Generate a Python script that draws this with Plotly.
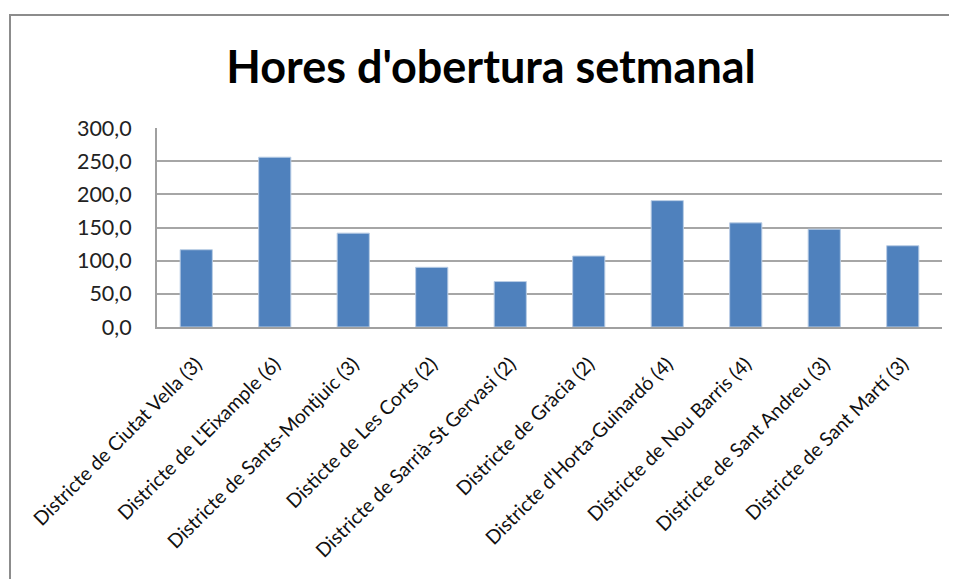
import plotly.graph_objects as go

categories = [
    "Districte de Ciutat Vella (3)",
    "Districte de L'Eixample (6)",
    "Districte de Sants-Montjuic (3)",
    "Disticte de Les Corts (2)",
    "Districte de Sarrià-St Gervasi (2)",
    "Districte de Gràcia (2)",
    "Districte d'Horta-Guinardó (4)",
    "Districte de Nou Barris (4)",
    "Districte de Sant Andreu (3)",
    "Districte de Sant Martí (3)",
]
hours = [116.5, 256.0, 141.5, 90.0, 68.5, 107.0, 190.5, 157.0, 147.5, 122.5]
y_ticks = [0, 50, 100, 150, 200, 250, 300]

FONT = "Lato"
OFF = 8  # page body margin offset

W, H = 941, 571
L = 157 - OFF
T = 128 - OFF
R = W - (942 - OFF)
B = round(H - (327.3 - OFF))
pw, ph = W - L - R, H - T - B

fig = go.Figure(
    go.Bar(
        x=categories,
        y=hours,
        marker=dict(color="#4F81BD", line=dict(color="#B9CDE5", width=1)),
    )
)

fig.update_layout(
    width=W,
    height=H,
    margin=dict(l=L, r=R, t=T, b=B, autoexpand=False),
    paper_bgcolor="white",
    plot_bgcolor="white",
    separators=",.",
    bargap=0.59,
    showlegend=False,
    font=dict(family=FONT, color="#000000"),
    title=dict(
        text="<b>Hores d'obertura setmanal</b>",
        x=(491 - OFF) / W,
        xref="container",
        xanchor="center",
        y=1 - (67 - OFF) / H,
        yref="container",
        yanchor="middle",
        font=dict(family=FONT, size=45, color="#000000"),
    ),
    xaxis=dict(
        tickangle=-45,
        tickfont=dict(family=FONT, size=19.5, color="#111111"),
        showline=True,
        linecolor="#A0A0A0",
        linewidth=2,
        ticks="",
        showgrid=False,
        automargin=False,
        ticklabelstandoff=16,
    ),
    yaxis=dict(
        range=[0, 300],
        tickvals=y_ticks,
        tickformat=".1f",
        tickfont=dict(family=FONT, size=21.5, color="#222222"),
        showgrid=True,
        gridcolor="#A6A6A6",
        gridwidth=1.5,
        showline=True,
        linecolor="#A0A0A0",
        linewidth=2,
        ticks="",
        ticklabelstandoff=19,
        zeroline=False,
        automargin=False,
    ),
    shapes=[
        dict(
            type="rect",
            xref="paper",
            yref="paper",
            x0=(10 - OFF - L) / pw,
            x1=(W + 30 - L) / pw,
            y0=-(H + 30 - (H - B)) / ph,
            y1=(H - B - (15 - OFF)) / ph,
            line=dict(color="#8C8C8C", width=2),
            fillcolor="rgba(0,0,0,0)",
            layer="below",
        )
    ],
)

fig.write_html("out.html")
